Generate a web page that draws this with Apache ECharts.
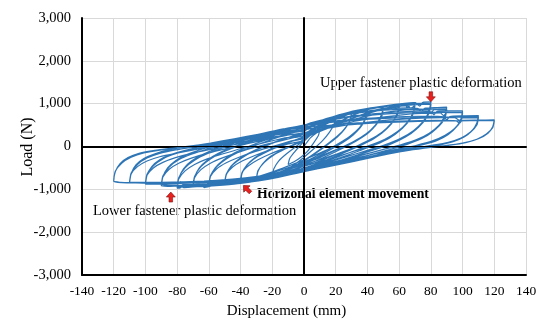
<!DOCTYPE html>
<html><head><meta charset="utf-8">
<script src="https://cdn.jsdelivr.net/npm/echarts@6/dist/echarts.min.js"></script>
<style>html,body{margin:0;padding:0;background:#fff}#c{width:555px;height:326px}</style>
</head><body><div id="c"></div>
<script>
// Displacement (mm), Load (N) pairs for each loading cycle
const cyc10 = [[0,0],[4,200],[8,320],[10,380],[9,250],[6,80],[2,-120],[-2,-250],[-6,-350],[-10,-420],[-9,-280],[-6,-130],[-3,0],[0,120]];
const cyc20 = [[0,120],[6,330],[12,500],[17,620],[20,680],[19,520],[16,330],[12,150],[6,-60],[0,-250],[-6,-420],[-12,-550],[-17,-640],[-20,-680],[-19,-520],[-16,-340],[-11,-170],[-5,0],[0,140]];
const cyc30a = [[0,140],[8,380],[15,560],[22,690],[27,770],[30,800],[29,620],[26,420],[21,220],[14,20],[6,-190],[-2,-380],[-10,-540],[-18,-650],[-25,-720],[-30,-760],[-29,-580],[-26,-400],[-21,-230],[-14,-80],[-7,40],[0,160]];
const cyc30b = [[0,160],[9,420],[17,600],[24,720],[30,780],[29,600],[25,390],[19,180],[12,-20],[4,-230],[-4,-410],[-12,-560],[-20,-660],[-26,-715],[-30,-740],[-29,-560],[-25,-370],[-19,-200],[-12,-60],[-5,60],[0,170]];
const cyc40a = [[0,170],[10,430],[18,600],[26,730],[33,820],[38,865],[40,880],[39,690],[36,470],[31,270],[24,80],[15,-110],[6,-290],[-4,-460],[-14,-600],[-23,-700],[-31,-765],[-37,-795],[-40,-810],[-39,-620],[-36,-430],[-31,-260],[-24,-110],[-16,20],[-8,130],[0,210]];
const cyc40b = [[0,210],[11,460],[20,630],[28,750],[35,830],[40,860],[39,670],[35,440],[29,240],[21,50],[12,-140],[2,-330],[-8,-490],[-18,-630],[-27,-720],[-34,-775],[-40,-800],[-39,-600],[-35,-400],[-29,-230],[-21,-80],[-12,60],[-5,160],[0,230]];
const cyc40c = [[0,230],[10,380],[20,540],[28,680],[35,790],[40,840],[39,650],[35,420],[29,220],[21,40],[12,-120],[2,-280],[-8,-430],[-18,-570],[-27,-680],[-34,-750],[-40,-780],[-39,-600],[-35,-450],[-29,-310],[-21,-170],[-12,-40],[-5,60],[0,120]];
const cyc50a = [[0,230],[10,470],[20,640],[30,780],[40,875],[46,920],[50,940],[49,760],[46,540],[41,330],[34,150],[25,-30],[15,-210],[4,-390],[-8,-550],[-19,-680],[-29,-770],[-38,-825],[-45,-850],[-50,-860],[-49,-660],[-46,-460],[-41,-290],[-34,-140],[-25,10],[-15,150],[-6,250],[0,300]];
const cyc50b = [[0,300],[12,540],[23,700],[33,810],[42,885],[50,910],[49,720],[45,500],[39,290],[31,110],[21,-70],[10,-260],[-2,-430],[-13,-580],[-24,-700],[-34,-790],[-43,-835],[-50,-845],[-49,-640],[-45,-430],[-39,-260],[-31,-100],[-21,60],[-10,210],[0,330]];
const cyc50c = [[0,200],[12,380],[24,560],[34,710],[43,830],[50,890],[49,700],[45,480],[39,280],[31,100],[21,-60],[10,-230],[-2,-390],[-13,-530],[-24,-660],[-34,-760],[-43,-810],[-50,-830],[-49,-650],[-45,-480],[-39,-340],[-31,-210],[-21,-70],[-10,60],[0,160]];
const cyc60a = [[0,330],[10,540],[22,710],[34,830],[45,910],[54,960],[60,985],[59,800],[56,580],[51,370],[44,180],[35,10],[25,-150],[14,-320],[2,-480],[-10,-620],[-22,-730],[-33,-810],[-43,-860],[-52,-890],[-57,-900],[-60,-905],[-59,-700],[-56,-500],[-51,-320],[-44,-150],[-35,0],[-25,140],[-14,260],[-5,340],[0,390]];
const cyc60b = [[0,390],[12,590],[25,740],[38,850],[48,915],[55,950],[60,960],[59,770],[55,540],[49,330],[41,150],[32,-10],[21,-180],[9,-350],[-3,-500],[-15,-640],[-27,-750],[-38,-820],[-48,-870],[-55,-890],[-60,-890],[-59,-680],[-55,-470],[-49,-290],[-41,-130],[-31,20],[-20,170],[-10,290],[0,400]];
const cyc60c = [[0,220],[12,400],[25,590],[38,760],[48,870],[55,920],[60,940],[59,750],[55,520],[49,310],[41,140],[32,-20],[21,-170],[9,-320],[-3,-460],[-15,-590],[-27,-700],[-38,-780],[-48,-840],[-52,-900],[-55,-850],[-60,-880],[-59,-700],[-55,-520],[-49,-380],[-41,-250],[-31,-120],[-20,0],[-10,110],[0,200]];
const cyc70a = [[0,400],[12,580],[25,740],[38,850],[50,930],[58,970],[64,995],[65,900],[67,1000],[70,1010],[69,820],[66,600],[61,390],[54,200],[45,40],[35,-100],[23,-260],[11,-410],[-2,-560],[-15,-690],[-28,-790],[-40,-860],[-51,-900],[-60,-925],[-66,-940],[-70,-940],[-69,-720],[-66,-500],[-61,-320],[-54,-160],[-45,-20],[-34,120],[-22,250],[-10,360],[0,430]];
const cyc70b = [[0,430],[13,610],[27,770],[40,870],[52,940],[60,970],[70,985],[69,790],[65,560],[59,350],[51,170],[41,20],[29,-140],[17,-300],[4,-460],[-9,-610],[-22,-730],[-35,-820],[-47,-880],[-57,-915],[-63,-960],[-64,-900],[-70,-925],[-69,-700],[-65,-470],[-59,-290],[-51,-130],[-41,20],[-29,160],[-16,290],[-6,380],[0,440]];
const cyc70c = [[0,250],[13,420],[27,610],[40,770],[52,890],[60,940],[66,955],[67,880],[70,965],[69,770],[65,540],[59,330],[51,150],[41,0],[29,-140],[17,-280],[4,-420],[-9,-560],[-22,-680],[-35,-780],[-47,-850],[-57,-890],[-64,-905],[-70,-910],[-69,-730],[-65,-540],[-59,-390],[-51,-260],[-41,-130],[-29,0],[-16,120],[-6,210],[0,260]];
const cyc80a = [[0,440],[12,610],[26,770],[40,880],[52,955],[62,1000],[70,1025],[73,940],[75,1030],[80,1040],[79,850],[76,620],[71,410],[64,220],[55,60],[44,-80],[32,-220],[19,-370],[6,-510],[-8,-650],[-22,-760],[-36,-840],[-49,-890],[-60,-920],[-70,-945],[-76,-960],[-77,-900],[-78,-965],[-80,-970],[-79,-750],[-76,-520],[-71,-340],[-64,-190],[-55,-50],[-44,80],[-31,210],[-17,340],[-6,430],[0,470]];
const cyc80b = [[0,470],[14,650],[28,800],[42,900],[55,965],[65,1000],[74,1010],[80,1005],[79,810],[75,580],[69,370],[61,190],[51,40],[39,-100],[26,-250],[12,-400],[-2,-550],[-16,-680],[-30,-780],[-44,-850],[-57,-895],[-68,-925],[-76,-945],[-80,-950],[-79,-730],[-75,-500],[-69,-320],[-61,-170],[-51,-30],[-39,100],[-25,240],[-12,370],[0,480]];
const cyc80c = [[0,280],[14,450],[28,630],[42,790],[55,900],[65,960],[74,985],[80,990],[79,790],[75,560],[69,350],[61,170],[51,20],[39,-110],[26,-240],[12,-380],[-2,-520],[-16,-650],[-30,-760],[-44,-840],[-57,-890],[-60,-830],[-62,-905],[-68,-920],[-76,-935],[-80,-940],[-79,-760],[-75,-570],[-69,-420],[-61,-290],[-51,-170],[-39,-40],[-25,90],[-12,200],[0,290]];
const cyc90a = [[0,480],[14,640],[28,760],[42,840],[55,890],[66,905],[72,885],[74,800],[76,890],[84,910],[90,920],[89,740],[86,530],[81,340],[74,180],[65,50],[54,-70],[42,-190],[28,-330],[14,-470],[0,-590],[-14,-700],[-28,-780],[-42,-840],[-56,-880],[-68,-905],[-80,-920],[-86,-930],[-90,-925],[-89,-710],[-86,-500],[-81,-330],[-74,-190],[-65,-70],[-54,40],[-41,160],[-27,290],[-13,410],[0,500]];
const cyc90b = [[0,500],[15,650],[30,760],[45,830],[58,865],[68,880],[78,870],[85,880],[90,880],[89,700],[85,490],[79,310],[71,160],[61,40],[49,-80],[36,-210],[22,-350],[8,-490],[-6,-610],[-20,-710],[-35,-790],[-49,-845],[-63,-880],[-76,-900],[-86,-905],[-90,-900],[-89,-690],[-85,-480],[-79,-310],[-71,-180],[-61,-60],[-49,60],[-35,180],[-20,320],[-8,430],[0,490]];
const cyc90c = [[0,300],[15,460],[30,620],[45,750],[58,830],[68,860],[78,855],[80,780],[82,860],[90,860],[89,680],[85,470],[79,300],[71,150],[61,30],[49,-80],[36,-200],[22,-330],[8,-460],[-6,-580],[-20,-680],[-35,-770],[-49,-830],[-63,-870],[-76,-890],[-78,-820],[-80,-900],[-86,-895],[-90,-890],[-89,-710],[-85,-530],[-79,-390],[-71,-270],[-61,-160],[-49,-50],[-35,70],[-20,190],[-8,280],[0,330]];
const cyc100a = [[0,490],[15,620],[30,710],[45,770],[60,805],[72,825],[80,810],[82,740],[84,820],[92,830],[100,830],[99,650],[96,450],[91,280],[84,140],[75,40],[64,-50],[51,-150],[37,-270],[22,-400],[6,-530],[-10,-640],[-26,-730],[-42,-790],[-58,-830],[-72,-855],[-85,-870],[-95,-880],[-100,-880],[-99,-670],[-96,-470],[-91,-310],[-84,-190],[-75,-90],[-63,10],[-49,120],[-34,240],[-18,370],[0,480]];
const cyc100b = [[0,480],[16,610],[32,700],[48,750],[62,780],[74,795],[86,800],[94,795],[100,800],[99,620],[95,420],[89,260],[81,130],[71,30],[59,-60],[45,-170],[30,-300],[14,-430],[-2,-550],[-18,-660],[-34,-750],[-50,-810],[-66,-845],[-80,-860],[-92,-865],[-100,-860],[-99,-650],[-95,-450],[-89,-290],[-81,-170],[-71,-70],[-58,30],[-43,140],[-27,270],[-12,390],[0,470]];
const cyc100c = [[0,320],[16,460],[32,590],[48,680],[62,740],[74,770],[86,785],[88,720],[90,790],[100,785],[99,600],[95,410],[89,250],[81,120],[71,20],[59,-70],[45,-170],[30,-290],[14,-410],[-2,-520],[-18,-630],[-34,-720],[-50,-790],[-66,-830],[-80,-850],[-92,-855],[-100,-850],[-99,-670],[-95,-500],[-89,-370],[-81,-260],[-71,-160],[-58,-60],[-43,50],[-27,160],[-12,260],[0,330]];
const cyc110a = [[0,470],[16,580],[32,640],[48,675],[64,700],[78,712],[88,695],[90,620],[92,700],[100,715],[110,720],[109,550],[106,370],[101,220],[94,110],[85,30],[74,-40],[61,-120],[46,-230],[30,-360],[13,-490],[-4,-610],[-21,-700],[-38,-770],[-55,-815],[-71,-840],[-86,-850],[-99,-855],[-106,-850],[-110,-845],[-109,-630],[-106,-430],[-101,-280],[-94,-170],[-85,-80],[-73,0],[-59,80],[-44,180],[-28,290],[-12,390],[0,450]];
const cyc110b = [[0,450],[17,560],[34,620],[51,655],[67,675],[80,685],[95,690],[104,685],[110,690],[109,520],[105,340],[99,200],[91,100],[81,30],[69,-40],[55,-130],[40,-250],[23,-380],[6,-510],[-11,-620],[-28,-710],[-45,-775],[-62,-815],[-78,-835],[-93,-845],[-104,-845],[-110,-830],[-109,-620],[-105,-420],[-99,-270],[-91,-160],[-81,-80],[-68,0],[-53,90],[-37,190],[-20,300],[0,420]];
const cyc110c = [[0,320],[17,440],[34,540],[51,610],[67,650],[80,670],[95,675],[98,610],[100,670],[110,675],[109,500],[105,330],[99,190],[91,90],[81,20],[69,-50],[55,-140],[40,-250],[23,-370],[6,-490],[-11,-600],[-28,-690],[-45,-760],[-62,-805],[-78,-825],[-93,-835],[-104,-835],[-110,-820],[-109,-640],[-105,-470],[-99,-340],[-91,-240],[-81,-160],[-68,-70],[-53,20],[-37,120],[-20,220],[0,330]];
const cyc120a = [[0,420],[17,500],[34,550],[51,580],[68,600],[84,610],[96,600],[98,540],[100,610],[110,615],[120,620],[119,460],[116,310],[110,180],[102,90],[92,30],[80,-20],[66,-90],[50,-190],[33,-320],[15,-460],[-3,-580],[-21,-680],[-39,-750],[-57,-800],[-75,-830],[-92,-845],[-106,-850],[-115,-845],[-120,-810],[-119,-590],[-116,-400],[-111,-260],[-104,-160],[-94,-90],[-81,-30],[-66,40],[-50,120],[-33,210],[-16,300],[0,390]];
const cyc120b = [[0,390],[18,480],[36,530],[54,565],[72,585],[90,598],[105,602],[114,605],[120,600],[119,440],[115,290],[109,170],[100,80],[89,20],[76,-30],[61,-110],[45,-220],[27,-350],[9,-480],[-9,-600],[-27,-690],[-45,-760],[-63,-805],[-80,-830],[-96,-840],[-109,-845],[-116,-835],[-120,-800],[-119,-580],[-115,-390],[-109,-250],[-101,-150],[-90,-80],[-77,-20],[-61,50],[-44,130],[-27,220],[-10,310],[0,360]];

const xTicks = [-140, 140, 20];
const yTicks = [-3000, 3000, 1000];
const annotations = [
  {text: 'Upper fastener plastic deformation', arrow: [80, 1160], dir: 'down'},
  {text: 'Lower fastener plastic deformation', arrow: [-84, -1180], dir: 'up'},
  {text: 'Horizonal element movement', arrow: [-36, -992], dir: 'upleft'}
];

const allCycles = [cyc10, cyc20, cyc30a, cyc30b, cyc40a, cyc40b, cyc40c, cyc50a, cyc50b, cyc50c,
  cyc60a, cyc60b, cyc60c, cyc70a, cyc70b, cyc70c, cyc80a, cyc80b, cyc80c, cyc90a, cyc90b, cyc90c,
  cyc100a, cyc100b, cyc100c, cyc110a, cyc110b, cyc110c, cyc120a, cyc120b];
const curve = [].concat(...allCycles);

const SERIF = '"Liberation Serif", "Times New Roman", serif';
const arrowPath = 'path://M3,0 L7,0 L7,5 L10,5 L5,10 L0,5 L3,5 Z';
const rot = {down: 0, up: 180, upleft: 225};

const chart = echarts.init(document.getElementById('c'), null, {renderer: 'canvas'});
const frameAxis = {show: true, axisLine: {show: true, lineStyle: {color: '#000', width: 2}}, axisTick: {show: false}, axisLabel: {show: false}, splitLine: {show: false}};
chart.setOption({
  animation: false,
  backgroundColor: '#fff',
  grid: {left: 82, right: 29, top: 18, bottom: 51, containLabel: false},
  xAxis: [{
    type: 'value', min: xTicks[0], max: xTicks[1], interval: xTicks[2],
    axisLine: {show: true, onZero: false, lineStyle: {color: '#000', width: 2}},
    axisTick: {show: false},
    axisLabel: {fontFamily: SERIF, fontSize: 13.5, color: '#000', margin: 9},
    splitLine: {show: true, lineStyle: {color: '#D9D9D9', width: 1}}
  }, Object.assign({type: 'value', position: 'top', min: xTicks[0], max: xTicks[1], interval: xTicks[2]}, frameAxis)],
  yAxis: [{
    type: 'value', min: yTicks[0], max: yTicks[1], interval: yTicks[2],
    axisLine: {show: true, onZero: false, lineStyle: {color: '#000', width: 2}},
    axisTick: {show: false},
    axisLabel: {fontFamily: SERIF, fontSize: 14.5, color: '#000', margin: 11,
      formatter: v => v.toLocaleString('en-US')},
    splitLine: {show: true, lineStyle: {color: '#D9D9D9', width: 1}}
  }, Object.assign({type: 'value', position: 'right', min: yTicks[0], max: yTicks[1], interval: yTicks[2]}, frameAxis)],
  series: [{
    type: 'line', data: curve, showSymbol: false, symbol: 'none', smooth: 0.2,
    lineStyle: {color: '#2E75B6', width: 1.2}, z: 3,
    markLine: {
      silent: true, symbol: ['none', 'none'], label: {show: false},
      lineStyle: {color: '#000', width: 1, type: 'solid'},
      data: [{xAxis: 0}, {yAxis: 0}]
    },
    markPoint: {
      silent: true, label: {show: false},
      data: annotations.map(a => ({
        coord: a.arrow, symbol: arrowPath, symbolSize: [9, 10], symbolRotate: rot[a.dir],
        itemStyle: {color: '#E8201E', borderColor: '#7A1010', borderWidth: 0.6}
      }))
    }
  }],
  graphic: [
    {type: 'text', x: 320, y: 83, style: {text: annotations[0].text, font: '14.5px ' + SERIF, fill: '#000', verticalAlign: 'middle', align: 'left'}},
    {type: 'text', x: 93, y: 211, style: {text: annotations[1].text, font: '14.5px ' + SERIF, fill: '#000', verticalAlign: 'middle', align: 'left'}},
    {type: 'text', x: 257, y: 194, style: {text: annotations[2].text, font: 'bold 13.7px ' + SERIF, fill: '#000', verticalAlign: 'middle', align: 'left'}},
    {type: 'text', x: 286.5, y: 311, style: {text: 'Displacement (mm)', font: '15px ' + SERIF, fill: '#000', verticalAlign: 'middle', align: 'center'}},
    {type: 'text', x: 28, y: 147, rotation: Math.PI / 2, style: {text: 'Load (N)', font: '16px ' + SERIF, fill: '#000', verticalAlign: 'middle', align: 'center'}}
  ]
});
</script></body></html>
